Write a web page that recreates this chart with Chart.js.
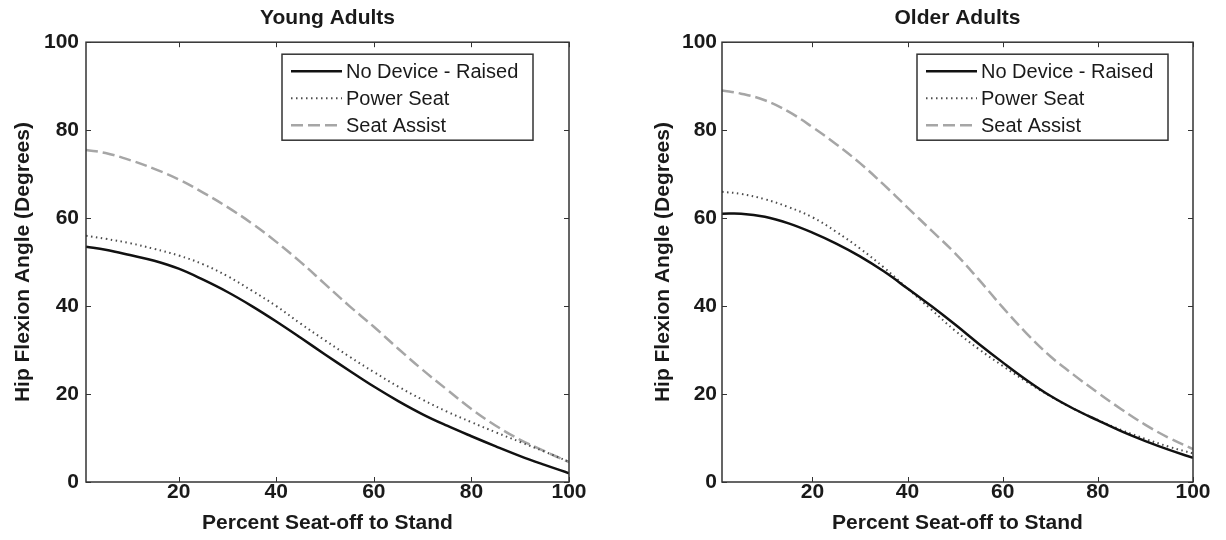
<!DOCTYPE html>
<html>
<head>
<meta charset="utf-8">
<script src="https://cdn.jsdelivr.net/npm/chart.js@4"></script>
<style>
  body { margin: 0; background: #fff; }
  #wrap { position: relative; width: 1226px; height: 540px; }
  canvas { position: absolute; top: 0; }
</style>
</head>
<body>
<div id="wrap">
  <canvas id="young" width="613" height="540" style="left:0"></canvas>
  <canvas id="older" width="613" height="540" style="left:613px"></canvas>
</div>
<script>
// percent of seat-off to stand
const xPct = [1, 5, 10, 15, 20, 25, 30, 35, 40, 45, 50, 55, 60, 65, 70, 75, 80, 85, 90, 95, 100];

const seriesNames = ['No Device - Raised', 'Power Seat', 'Seat Assist'];

const youngNoDevice   = [53.5, 52.8, 51.6, 50.3, 48.5, 46, 43.2, 40, 36.5, 32.8, 29, 25.3, 21.7, 18.4, 15.4, 12.8, 10.4, 8.1, 5.9, 3.9, 2];
const youngPowerSeat  = [56, 55.3, 54.3, 53, 51.5, 49.5, 46.8, 43.5, 40, 36, 32.2, 28.5, 25, 21.7, 18.7, 16, 13.6, 11.3, 9.1, 6.9, 4.6];
const youngSeatAssist = [75.5, 74.8, 73.2, 71.2, 68.8, 65.8, 62.5, 58.8, 54.6, 50, 45, 40, 35.3, 30.3, 25.5, 21, 16.6, 12.8, 9.6, 7, 4.5];

const olderNoDevice   = [61, 61, 60.3, 58.8, 56.7, 54.2, 51.3, 47.9, 44, 40, 35.8, 31.4, 27.2, 23.2, 19.6, 16.6, 14, 11.5, 9.3, 7.3, 5.5];
const olderPowerSeat  = [66, 65.5, 64.3, 62.5, 60.2, 56.9, 53.1, 48.8, 44, 39.2, 34.4, 30.2, 26.4, 22.8, 19.5, 16.6, 14.1, 11.8, 9.8, 8, 6.5];
const olderSeatAssist = [89, 88.3, 86.8, 84.2, 80.7, 76.8, 72.5, 67.6, 62.4, 57.2, 52, 46, 39.7, 33.8, 28.6, 24.3, 20.3, 16.5, 13, 10, 7.5];

const xTicks = [20, 40, 60, 80, 100];
const yTicks = [0, 20, 40, 60, 80, 100];

const INK = '#1a1a1a';
const FONT = 'Liberation Sans, Arial, Helvetica, sans-serif';

const lineStyles = [
  { borderColor: '#111111', borderWidth: 2.5, borderDash: [] },
  { borderColor: '#4d4d4d', borderWidth: 2, borderDash: [1.5, 3.5] },
  { borderColor: '#a6a6a6', borderWidth: 2.5, borderDash: [12, 5] }
];

// box around the plot with inward ticks, matlab style
const framePlugin = {
  id: 'frame',
  afterDatasetsDraw(chart) {
    const { ctx, chartArea: a, scales } = chart;
    ctx.save();
    ctx.strokeStyle = '#333';
    ctx.lineWidth = 1.5;
    ctx.strokeRect(a.left, a.top, a.right - a.left, a.bottom - a.top);
    ctx.lineWidth = 1;
    const tl = 5;
    ctx.beginPath();
    scales.x.ticks.forEach(t => {
      const px = Math.round(scales.x.getPixelForValue(t.value)) + 0.5;
      ctx.moveTo(px, a.bottom); ctx.lineTo(px, a.bottom - tl);
      ctx.moveTo(px, a.top); ctx.lineTo(px, a.top + tl);
    });
    scales.y.ticks.forEach(t => {
      const py = Math.round(scales.y.getPixelForValue(t.value)) + 0.5;
      ctx.moveTo(a.left, py); ctx.lineTo(a.left + tl, py);
      ctx.moveTo(a.right, py); ctx.lineTo(a.right - tl, py);
    });
    ctx.stroke();
    ctx.restore();
  }
};

// legend box inside the plot, top right
const boxLegendPlugin = {
  id: 'boxLegend',
  afterDraw(chart, args, opts) {
    const { ctx, chartArea: a } = chart;
    const w = 251, h = 86;
    const x0 = a.right - opts.right - w;
    const y0 = a.top + 12;
    ctx.save();
    ctx.fillStyle = '#fff';
    ctx.fillRect(x0, y0, w, h);
    ctx.strokeStyle = '#333';
    ctx.lineWidth = 1.5;
    ctx.strokeRect(x0, y0, w, h);
    ctx.font = '20px ' + FONT;
    ctx.textBaseline = 'middle';
    chart.data.datasets.forEach((ds, i) => {
      const y = y0 + 17 + i * 27;
      ctx.beginPath();
      ctx.strokeStyle = ds.borderColor;
      ctx.lineWidth = ds.borderWidth;
      ctx.setLineDash(ds.borderDash || []);
      ctx.moveTo(x0 + 9, y);
      ctx.lineTo(x0 + 60, y);
      ctx.stroke();
      ctx.setLineDash([]);
      ctx.fillStyle = INK;
      ctx.fillText(ds.label, x0 + 64, y + 1);
    });
    ctx.restore();
  }
};

function makeChart(id, title, values, lay) {
  const datasets = values.map((vals, i) => ({
    label: seriesNames[i],
    data: xPct.map((x, j) => ({ x: x, y: vals[j] })),
    borderColor: lineStyles[i].borderColor,
    borderWidth: lineStyles[i].borderWidth,
    borderDash: lineStyles[i].borderDash,
    borderCapStyle: 'butt',
    pointRadius: 0,
    fill: false,
    tension: 0.4
  }));

  return new Chart(document.getElementById(id), {
    type: 'line',
    data: { datasets: datasets },
    options: {
      responsive: false,
      animation: false,
      devicePixelRatio: 1,
      layout: { padding: { left: lay.padLeft, right: lay.padRight, top: 0, bottom: 0 } },
      plugins: {
        legend: { display: false },
        tooltip: { enabled: false },
        title: {
          display: true,
          text: title,
          fullSize: false,
          color: INK,
          font: { family: FONT, size: 21, weight: 'bold' },
          padding: { top: 6, bottom: 11 }
        },
        boxLegend: { right: lay.legendRight }
      },
      scales: {
        x: {
          type: 'linear',
          min: 1,
          max: 100,
          afterBuildTicks: s => { s.ticks = xTicks.map(v => ({ value: v })); },
          afterFit: s => { s.height = 58; },
          grid: { display: false, drawTicks: false },
          border: { display: false },
          ticks: { color: INK, padding: -2, font: { family: FONT, size: 21, weight: 'bold' } },
          title: {
            display: true,
            text: 'Percent Seat-off to Stand',
            color: INK,
            font: { family: FONT, size: 21, weight: 'bold' },
            padding: { top: 0, bottom: 4 }
          }
        },
        y: {
          min: 0,
          max: 100,
          afterBuildTicks: s => { s.ticks = yTicks.map(v => ({ value: v })); },
          afterFit: s => { s.width = lay.yWidth; },
          grid: { display: false, drawTicks: false },
          border: { display: false },
          ticks: { color: INK, padding: lay.tickPad, font: { family: FONT, size: 21, weight: 'bold' } },
          title: {
            display: true,
            text: 'Hip Flexion Angle (Degrees)',
            color: INK,
            font: { family: FONT, size: 21, weight: 'bold' },
            padding: { top: 11, bottom: 0 }
          }
        }
      }
    },
    plugins: [framePlugin, boxLegendPlugin]
  });
}

makeChart('young', 'Young Adults', [youngNoDevice, youngPowerSeat, youngSeatAssist],
  { padLeft: 0, padRight: 44, yWidth: 86, tickPad: 7, legendRight: 36 });
makeChart('older', 'Older Adults', [olderNoDevice, olderPowerSeat, olderSeatAssist],
  { padLeft: 27, padRight: 33, yWidth: 82, tickPad: 5, legendRight: 25 });
</script>
</body>
</html>
